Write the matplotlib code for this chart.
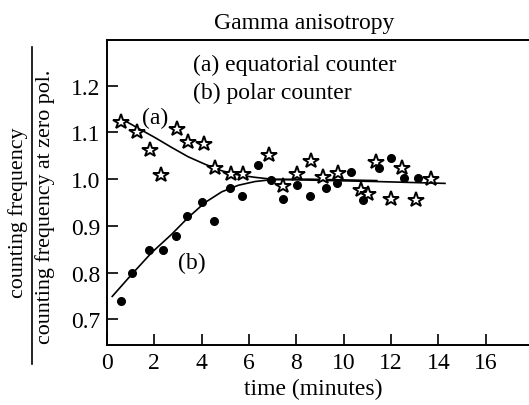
import numpy as np
import matplotlib.pyplot as plt
from matplotlib.lines import Line2D

plt.rcParams['font.family'] = 'Liberation Serif'

# (a) equatorial counter - stars
x_a = [0.57, 1.28, 1.82, 2.30, 2.97, 3.43, 4.10, 4.56, 5.22, 5.73, 6.86, 7.44,
       8.01, 8.62, 9.14, 9.77, 10.73, 11.04, 11.35, 12.0, 12.48, 13.05, 13.68]
y_a = [1.122, 1.100, 1.063, 1.010, 1.107, 1.079, 1.075, 1.024, 1.011, 1.011, 1.051, 0.986,
       1.011, 1.039, 1.004, 1.013, 0.976, 0.968, 1.036, 0.957, 1.023, 0.955, 1.001]

# (b) polar counter - dots
x_b = [0.57, 1.07, 1.77, 2.38, 2.90, 3.40, 4.03, 4.53, 5.20, 5.72, 6.39, 6.93,
       7.42, 8.01, 8.58, 9.24, 9.70, 10.31, 10.80, 11.50, 11.99, 12.56, 13.13]
y_b = [0.739, 0.799, 0.848, 0.849, 0.879, 0.921, 0.952, 0.910, 0.981, 0.964, 1.030, 0.999,
       0.957, 0.987, 0.963, 0.982, 0.991, 1.016, 0.956, 1.023, 1.045, 1.002, 1.002]

# fitted curves
fit_a_x = [0.62, 1.32, 2.03, 2.73, 3.43, 4.14, 4.85, 5.55, 6.25, 6.96, 8.58, 11.36, 14.28]
fit_a_y = [1.129, 1.109, 1.089, 1.068, 1.048, 1.032, 1.018, 1.009, 1.004, 1.000, 0.998, 0.995, 0.991]
fit_b_x = [0.22, 1.04, 1.89, 2.73, 3.43, 4.14, 4.85, 5.55, 6.25, 6.96, 8.5, 11.4]
fit_b_y = [0.749, 0.796, 0.843, 0.882, 0.918, 0.950, 0.973, 0.987, 0.995, 0.999, 1.000, 0.997]

x_ticks = [0, 2, 4, 6, 8, 10, 12, 14, 16]
y_ticks = [0.7, 0.8, 0.9, 1.0, 1.1, 1.2]

fs = 17

fig = plt.figure(figsize=(5.29, 4.06), dpi=100)
ax = fig.add_axes([0.2023, 0.1478, 0.7977, 0.7512])

ax.plot(fit_a_x, fit_a_y, color='black', lw=1.2)
ax.plot(fit_b_x, fit_b_y, color='black', lw=1.2)
ax.plot(x_a, y_a, ls='none', marker='*', ms=11.5, mfc='white', mec='black', mew=1.4)
ax.plot(x_b, y_b, ls='none', marker='o', ms=5.5, color='black')

ax.set_xlim(0, 17.83)
ax.set_ylim(0.645, 1.298)
ax.set_xticks(x_ticks)
ax.set_yticks(y_ticks)
ax.set_yticklabels([f'{v:.1f}' for v in y_ticks])
ax.tick_params(direction='in', length=8, width=1.2, labelsize=fs, pad=5)
ax.spines['right'].set_visible(False)
for s in ['top', 'left', 'bottom']:
    ax.spines[s].set_linewidth(1.4)

ax.set_title('Gamma anisotropy', fontsize=fs, x=0.467, pad=9)
ax.set_xlabel('time (minutes)', fontsize=fs)
ax.xaxis.set_label_coords(0.488, -0.108)

ax.text(3.63, 1.246, '(a) equatorial counter', fontsize=fs, va='center')
ax.text(3.63, 1.186, '(b) polar counter', fontsize=fs, va='center')
ax.text(2.04, 1.133, '(a)', fontsize=fs, va='center', ha='center')
ax.text(3.6, 0.822, '(b)', fontsize=fs, va='center', ha='center')

# fraction-style y label
fig.text(18 / 529, 1 - 213 / 406, 'counting frequency', rotation=90,
         fontsize=15.8, ha='center', va='center')
fig.text(45 / 529, 1 - 207 / 406, 'counting frequency at zero pol.', rotation=90,
         fontsize=15.8, ha='center', va='center')
fig.add_artist(Line2D([32 / 529, 32 / 529], [1 - 48 / 406, 1 - 365 / 406],
                      color='black', lw=1.2, transform=fig.transFigure))

fig.savefig('out.png', dpi=100)
